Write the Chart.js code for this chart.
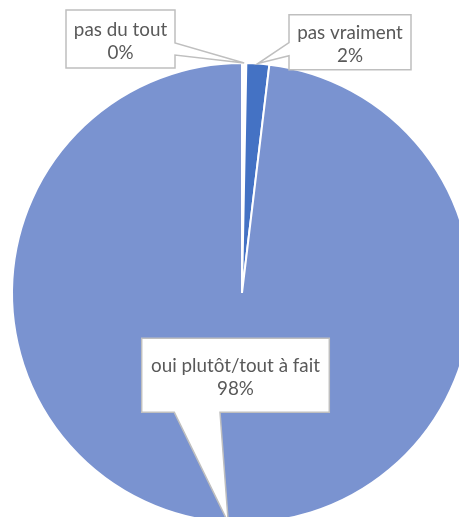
<!DOCTYPE html>
<html>
<head>
<meta charset="utf-8">
<script src="https://cdn.jsdelivr.net/npm/chart.js@4/dist/chart.umd.min.js"></script>
<style>
  html, body { margin: 0; padding: 0; background: #fff; overflow: hidden; width: 459px; height: 517px; }
  #wrap { position: absolute; left: 0; top: 0; }
</style>
</head>
<body>
<div id="wrap"><canvas id="c" width="484" height="586" style="width:484px;height:586px"></canvas></div>
<script>
// ---- data ----
const categories = ['pas du tout', 'pas vraiment', 'oui plutôt/tout à fait'];
const values = [0.3, 1.6, 98.1];
const sliceColors = ['#FFFFFF', '#4472C4', '#7A93D0'];

// ---- callout layout (box position and wedge base, in px) ----
const callouts = [
  { x: 66,    y: 10,    w: 109,   h: 58, side: 'right',  a: 33,   b: 45 },
  { x: 289,   y: 14.7,  w: 122,   h: 55, side: 'left',   a: 28,   b: 41 },
  { x: 141.7, y: 338.3, w: 187.6, h: 74, side: 'bottom', a: 32.6, b: 78.3 }
];

const total = values.reduce((s, v) => s + v, 0);
const pctText = values.map(v => Math.round(v / total * 100) + '%');

const calloutPlugin = {
  id: 'callouts',
  afterDraw(chart) {
    const ctx = chart.ctx;
    const meta = chart.getDatasetMeta(0);
    // fit font so the longest label matches the reference width
    ctx.save();
    ctx.font = '100px Lato';
    const wRef = ctx.measureText(categories[2]).width;
    const fs = 100 * 169 / wRef;
    ctx.restore();

    meta.data.forEach((arc, i) => {
      const c = callouts[i];
      const p = arc.getProps(['x', 'y', 'startAngle', 'endAngle', 'outerRadius'], true);
      const mid = (p.startAngle + p.endAngle) / 2;
      const tx = p.x + Math.cos(mid) * p.outerRadius;
      const ty = p.y + Math.sin(mid) * p.outerRadius;

      ctx.save();
      ctx.beginPath();
      const { x, y, w, h, a, b } = c;
      if (c.side === 'right') {
        ctx.moveTo(x, y); ctx.lineTo(x + w, y); ctx.lineTo(x + w, y + a);
        ctx.lineTo(tx, ty); ctx.lineTo(x + w, y + b); ctx.lineTo(x + w, y + h);
        ctx.lineTo(x, y + h); ctx.closePath();
      } else if (c.side === 'left') {
        ctx.moveTo(x, y); ctx.lineTo(x + w, y); ctx.lineTo(x + w, y + h);
        ctx.lineTo(x, y + h); ctx.lineTo(x, y + b); ctx.lineTo(tx, ty);
        ctx.lineTo(x, y + a); ctx.closePath();
      } else {
        ctx.moveTo(x, y); ctx.lineTo(x + w, y); ctx.lineTo(x + w, y + h);
        ctx.lineTo(x + b, y + h); ctx.lineTo(tx, ty); ctx.lineTo(x + a, y + h);
        ctx.lineTo(x, y + h); ctx.closePath();
      }
      ctx.fillStyle = '#FFFFFF';
      ctx.fill();
      ctx.lineWidth = 1.5;
      ctx.strokeStyle = '#BFBFBF';
      ctx.lineJoin = 'miter';
      ctx.stroke();

      ctx.fillStyle = '#595959';
      ctx.font = fs.toFixed(2) + 'px Lato';
      ctx.textAlign = 'center';
      ctx.textBaseline = 'alphabetic';
      const cx = x + w / 2, cy = y + h / 2;
      ctx.fillText(categories[i], cx, cy - 3.5);
      ctx.fillText(pctText[i], cx, cy + 19.5);
      ctx.restore();
    });
  }
};

new Chart(document.getElementById('c'), {
  type: 'pie',
  data: {
    labels: categories,
    datasets: [{
      data: values,
      backgroundColor: sliceColors,
      borderColor: '#FFFFFF',
      borderWidth: 2
    }]
  },
  options: {
    responsive: false,
    animation: false,
    radius: 230,
    layout: { padding: 0 },
    plugins: { legend: { display: false }, tooltip: { enabled: false } }
  },
  plugins: [calloutPlugin]
});
</script>
</body>
</html>
